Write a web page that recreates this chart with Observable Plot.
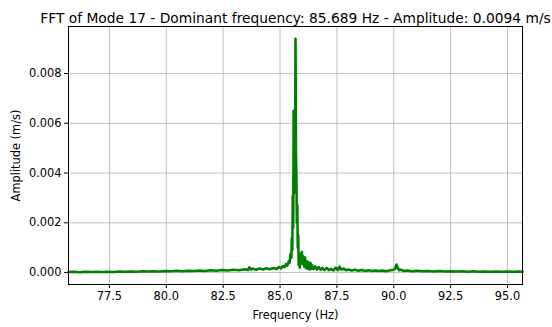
<!DOCTYPE html>
<html>
<head>
<meta charset="utf-8">
<script src="https://cdn.jsdelivr.net/npm/d3@7"></script>
<script src="https://cdn.jsdelivr.net/npm/@observablehq/plot@0.6"></script>
<style>
body{margin:0;background:#fff;}
svg{font-family:"DejaVu Sans",sans-serif;}
</style>
</head>
<body>
<div id="chart"></div>
<script>
const title = "FFT of Mode 17 - Dominant frequency: 85.689 Hz - Amplitude: 0.0094 m/s";
const xLabel = "Frequency (Hz)";
const yLabel = "Amplitude (m/s)";
const xTicks = [77.5, 80.0, 82.5, 85.0, 87.5, 90.0, 92.5, 95.0];
const yTicks = [0.000, 0.002, 0.004, 0.006, 0.008];

const freq = [
  75.70, 75.95, 76.20, 76.45, 76.70, 76.95, 77.20, 77.45, 77.70, 77.95,
  78.20, 78.45, 78.70, 78.95, 79.20, 79.45, 79.70, 79.95, 80.20, 80.45,
  80.70, 80.95, 81.20, 81.45, 81.70, 81.95, 82.20, 82.45, 82.70, 82.95,
  83.20, 83.45, 83.58, 83.65, 83.72, 83.80, 83.95, 84.10, 84.25, 84.40,
  84.55, 84.70, 84.85, 84.95, 85.05, 85.12, 85.20, 85.26, 85.32, 85.38,
  85.42, 85.46, 85.50, 85.52, 85.54, 85.56, 85.58, 85.60, 85.62, 85.64,
  85.66, 85.68, 85.70, 85.72, 85.74, 85.76, 85.78, 85.80, 85.82, 85.84,
  85.87, 85.90, 85.93, 85.96, 85.99, 86.02, 86.06, 86.10, 86.14, 86.18,
  86.22, 86.26, 86.30, 86.34, 86.38, 86.42, 86.48, 86.55, 86.62, 86.70,
  86.78, 86.86, 86.95, 87.05, 87.15, 87.25, 87.35, 87.45, 87.55, 87.62,
  87.70, 87.80, 87.90, 88.00, 88.15, 88.30, 88.45, 88.60, 88.75, 88.90,
  89.05, 89.20, 89.35, 89.50, 89.65, 89.80, 89.95, 90.05, 90.12, 90.18,
  90.24, 90.32, 90.45, 90.60, 90.80, 91.00, 91.25, 91.50, 91.75, 92.00,
  92.25, 92.50, 92.75, 93.00, 93.25, 93.50, 93.75, 94.00, 94.25, 94.50,
  94.75, 95.00, 95.25, 95.50, 95.66
];
const amp = [
  0.00002, 0.00003, 0.00001, 0.00003, 0.00002, 0.00003, 0.00002, 0.00003, 0.00002, 0.00004,
  0.00003, 0.00004, 0.00003, 0.00005, 0.00004, 0.00005, 0.00004, 0.00006, 0.00005, 0.00007,
  0.00005, 0.00007, 0.00006, 0.00008, 0.00006, 0.00009, 0.00007, 0.00010, 0.00008, 0.00011,
  0.00009, 0.00013, 0.00010, 0.00021, 0.00012, 0.00016, 0.00011, 0.00016, 0.00012, 0.00017,
  0.00013, 0.00018, 0.00014, 0.00022, 0.00017, 0.00026, 0.00022, 0.00034, 0.00028, 0.00045,
  0.00040, 0.00075, 0.00060, 0.00140, 0.00090, 0.00310, 0.00180, 0.00650, 0.00320, 0.00580,
  0.00400, 0.00940, 0.00480, 0.00390, 0.00200, 0.00270, 0.00100, 0.00150, 0.00030, 0.00060,
  0.00020, 0.00075, 0.00040, 0.00082, 0.00035, 0.00065, 0.00025, 0.00060, 0.00018, 0.00045,
  0.00015, 0.00040, 0.00012, 0.00038, 0.00015, 0.00028, 0.00014, 0.00025, 0.00012, 0.00022,
  0.00011, 0.00019, 0.00010, 0.00018, 0.00010, 0.00015, 0.00009, 0.00020, 0.00010, 0.00024,
  0.00012, 0.00016, 0.00009, 0.00012, 0.00008, 0.00011, 0.00007, 0.00010, 0.00006, 0.00009,
  0.00006, 0.00008, 0.00006, 0.00008, 0.00005, 0.00008, 0.00010, 0.00014, 0.00032, 0.00018,
  0.00009, 0.00011, 0.00006, 0.00008, 0.00005, 0.00007, 0.00005, 0.00006, 0.00004, 0.00006,
  0.00004, 0.00005, 0.00004, 0.00005, 0.00003, 0.00005, 0.00003, 0.00004, 0.00003, 0.00004,
  0.00003, 0.00004, 0.00003, 0.00004, 0.00003
];

const data = freq.map((f, i) => ({f, a: amp[i]}));

const chart = Plot.plot({
  width: 552,
  height: 327,
  marginLeft: 68,
  marginRight: 30,
  marginTop: 26,
  marginBottom: 43,
  style: {fontFamily: "DejaVu Sans, sans-serif", fontSize: "11.4px", color: "#000", background: "#fff"},
  x: {domain: [75.70, 95.66]},
  y: {domain: [-0.00048, 0.00989]},
  marks: [
    Plot.gridX(xTicks, {stroke: "#b0b0b0", strokeOpacity: 1, strokeWidth: 0.8}),
    Plot.gridY(yTicks, {stroke: "#b0b0b0", strokeOpacity: 1, strokeWidth: 0.8}),
    Plot.line(data, {x: "f", y: "a", stroke: "green", strokeWidth: 2.6, strokeLinejoin: "round"}),
    Plot.frame({stroke: "#000", strokeWidth: 1}),
    Plot.axisX(xTicks, {tickFormat: d3.format(".1f"), tickSize: 4, tickPadding: 3, fontSize: 11.4,
      label: xLabel, labelAnchor: "center", labelArrow: "none", labelOffset: 34}),
    Plot.axisY(yTicks, {tickFormat: d3.format(".3f"), tickSize: 4, tickPadding: 3, fontSize: 11.4,
      label: yLabel, labelAnchor: "center", labelArrow: "none", labelOffset: 57}),
    Plot.text([title], {frameAnchor: "top", dy: -13, fontSize: 13.8, fill: "#000"})
  ]
});
document.getElementById("chart").appendChild(chart);
</script>
</body>
</html>
